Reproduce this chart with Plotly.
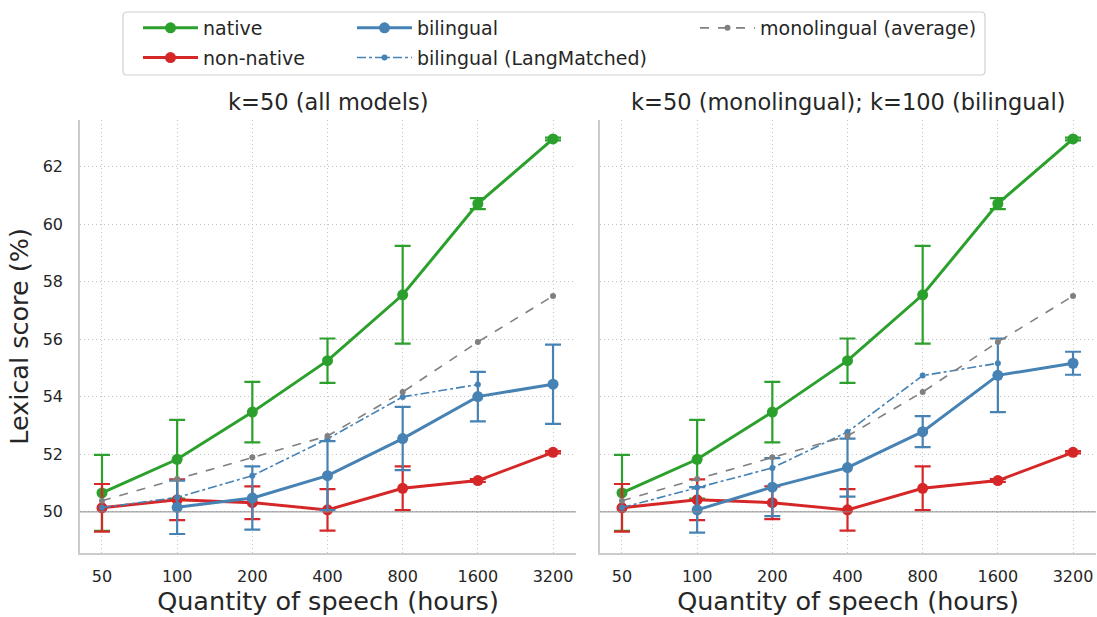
import plotly.graph_objects as go
import math

hours = [50, 100, 200, 400, 800, 1600, 3200]
tick_labels = ["50", "100", "200", "400", "800", "1600", "3200"]

native = [50.66, 51.83, 53.47, 55.26, 57.55, 60.72, 62.97]
native_err = [1.32, 1.37, 1.05, 0.77, 1.70, 0.19, 0.05]
nonnative = [50.14, 50.42, 50.32, 50.07, 50.82, 51.09, 52.07]
nonnative_err = [0.83, 0.71, 0.57, 0.72, 0.76, 0.05, 0.04]
mono_avg = [50.39, 51.14, 51.90, 52.64, 54.17, 55.91, 57.51]

bi_hours = [100, 200, 400, 800, 1600, 3200]
bi_left = [50.16, 50.48, 51.26, 52.55, 54.01, 54.44]
bi_left_err = [0.93, 1.10, 1.20, 1.10, 0.86, 1.38]
bi_right = [50.07, 50.86, 51.54, 52.79, 54.75, 55.17]
bi_right_err = [0.79, 1.01, 1.01, 0.54, 1.28, 0.40]

lm_hours = [50, 100, 200, 400, 800, 1600]
lm_left = [50.15, 50.50, 51.26, 52.54, 54.00, 54.43]
lm_right = [50.15, 50.85, 51.53, 52.78, 54.74, 55.17]

titles = ["k=50 (all models)", "k=50 (monolingual); k=100 (bilingual)"]
baseline = 50

GREEN = "#2ca02c"
RED = "#d62728"
BLUE = "#4682b4"
GRAY = "#808080"
FONT = "DejaVu Sans"
TXT = "#262626"

fig = go.Figure()

panels = [
    ("x", "y", bi_left, bi_left_err, lm_left, True),
    ("x2", "y2", bi_right, bi_right_err, lm_right, False),
]


def err(vals, color):
    return dict(type="data", array=vals, visible=True, color=color,
                thickness=2.2, width=8)


for xa, ya, bi, bi_err, lm, show in panels:
    fig.add_trace(go.Scatter(
        x=hours, y=native, name="native", mode="lines+markers",
        line=dict(color=GREEN, width=3), marker=dict(size=11, color=GREEN),
        error_y=err(native_err, GREEN), xaxis=xa, yaxis=ya,
        showlegend=show, legend="legend", legendgroup="native"))
    fig.add_trace(go.Scatter(
        x=hours, y=nonnative, name="non-native", mode="lines+markers",
        line=dict(color=RED, width=3), marker=dict(size=11, color=RED),
        error_y=err(nonnative_err, RED), xaxis=xa, yaxis=ya,
        showlegend=show, legend="legend", legendgroup="nonnative"))
    fig.add_trace(go.Scatter(
        x=bi_hours, y=bi, name="bilingual", mode="lines+markers",
        line=dict(color=BLUE, width=3), marker=dict(size=11, color=BLUE),
        error_y=err(bi_err, BLUE), xaxis=xa, yaxis=ya,
        showlegend=show, legend="legend2", legendgroup="bi"))
    fig.add_trace(go.Scatter(
        x=lm_hours, y=lm, name="bilingual (LangMatched)", mode="lines+markers",
        line=dict(color=BLUE, width=1.6, dash="dashdot"),
        marker=dict(size=6, color=BLUE), xaxis=xa, yaxis=ya,
        showlegend=show, legend="legend2", legendgroup="lm"))
    fig.add_trace(go.Scatter(
        x=hours, y=mono_avg, name="monolingual (average)", mode="lines+markers",
        line=dict(color=GRAY, width=1.6, dash="dash"),
        marker=dict(size=6, color=GRAY), xaxis=xa, yaxis=ya,
        showlegend=show, legend="legend3", legendgroup="mono"))

xr = [math.log10(50) - 0.088, math.log10(3200) + 0.092]
yr = [48.57, 63.63]

axis_common = dict(
    showgrid=True, gridcolor="#c4c4c4", griddash="1.3px,2.7px", gridwidth=1.1,
    showline=True, linecolor="#cccccc", linewidth=1.5, zeroline=False,
    ticks="outside", tickcolor="rgba(0,0,0,0)",
    tickfont=dict(family=FONT, size=16, color=TXT),
)

W, H = 1097, 617
L, R, T, B = 80, 1, 120, 64
pw = W - L - R
ph = H - T - B

left_dom = [0, (576 - L) / pw]
right_dom = [(600 - L) / pw, 1.0]

xtitle = dict(text="Quantity of speech (hours)", font=dict(family=FONT, size=25.5, color=TXT), standoff=4)

fig.update_layout(
    xaxis=dict(domain=left_dom, type="log", range=xr, tickvals=hours, ticktext=tick_labels,
               title=xtitle, anchor="y", ticklen=8, **axis_common),
    xaxis2=dict(domain=right_dom, type="log", range=xr, tickvals=hours, ticktext=tick_labels,
                title=xtitle, anchor="y2", ticklen=8, **axis_common),
    yaxis=dict(range=yr, tickvals=[50, 52, 54, 56, 58, 60, 62], anchor="x",
               title=dict(text="Lexical score (%)", font=dict(family=FONT, size=25.5, color=TXT), standoff=7),
               ticklen=12, **axis_common),
    yaxis2=dict(range=yr, tickvals=[50, 52, 54, 56, 58, 60, 62], anchor="x2",
                showticklabels=False, matches="y", ticklen=0, **axis_common),
)

for xref, yref in (("x domain", "y"), ("x2 domain", "y2")):
    fig.add_shape(type="line", xref=xref, yref=yref, x0=0, x1=1, y0=baseline, y1=baseline,
                  line=dict(color="#888888", width=1), layer="above")

for t, dom in zip(titles, (left_dom, right_dom)):
    fig.add_annotation(text=t, x=(dom[0] + dom[1]) / 2, y=1.0, xref="paper", yref="paper",
                       xanchor="center", yanchor="bottom", yshift=3, showarrow=False,
                       font=dict(family=FONT, size=22.5, color=TXT))


def px_x(p):  # window pixel -> paper
    return (p - L) / pw


def px_y(p):
    return (H - B - p) / ph


leg_common = dict(bgcolor="rgba(0,0,0,0)", borderwidth=0, yanchor="top", xanchor="left",
                  font=dict(family=FONT, size=19, color=TXT), itemwidth=55,
                  tracegroupgap=2, orientation="v")

fig.update_layout(
    legend=dict(x=px_x(138), y=px_y(9), **leg_common),
    legend2=dict(x=px_x(352), y=px_y(9), **leg_common),
    legend3=dict(x=px_x(695), y=px_y(9), **leg_common),
)

# legend frame with rounded corners
x0, x1, y0, y1 = px_x(123), px_x(985), px_y(75), px_y(12)
rx, ry = 4 / pw, 4 / ph
path = (f"M {x0+rx},{y1} L {x1-rx},{y1} Q {x1},{y1} {x1},{y1-ry} "
        f"L {x1},{y0+ry} Q {x1},{y0} {x1-rx},{y0} L {x0+rx},{y0} "
        f"Q {x0},{y0} {x0},{y0+ry} L {x0},{y1-ry} Q {x0},{y1} {x0+rx},{y1} Z")
fig.add_shape(type="path", path=path, xref="paper", yref="paper",
              line=dict(color="#d0d0d0", width=1.2), fillcolor="rgba(255,255,255,0.8)",
              layer="below")

fig.update_layout(
    width=W, height=H,
    margin=dict(l=L, r=R, t=T, b=B, autoexpand=False),
    plot_bgcolor="white", paper_bgcolor="white",
    font=dict(family=FONT, color=TXT),
)

fig.write_html("out.html", config={"displayModeBar": False},
               post_script="document.body.style.margin='0';document.body.style.overflow='hidden';")
